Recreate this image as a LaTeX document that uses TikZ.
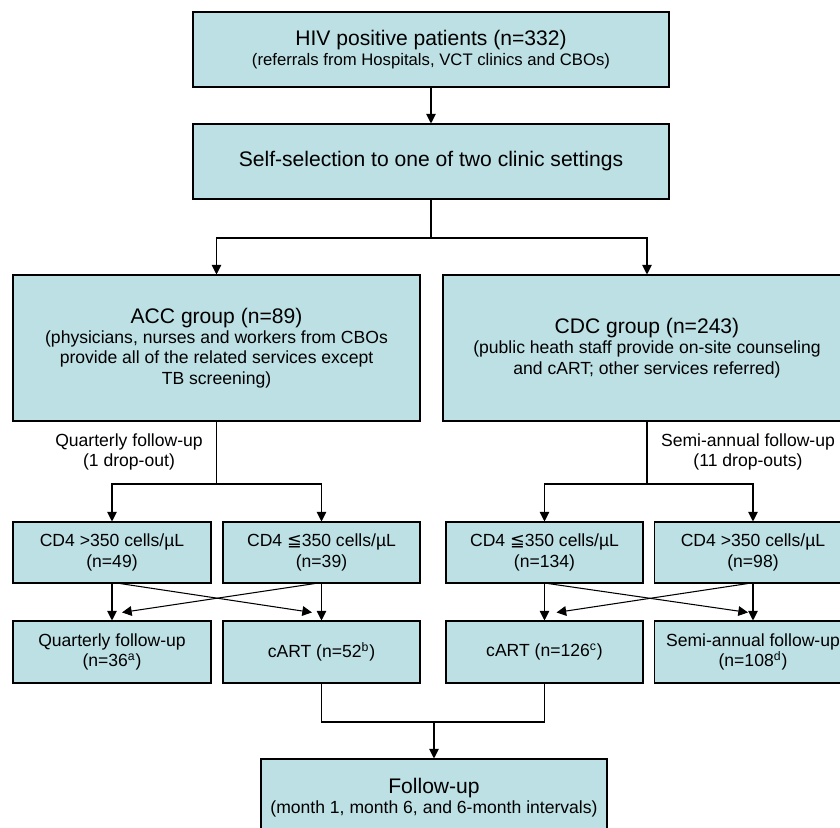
\documentclass[tikz,border=0pt]{standalone}
\usepackage{fontspec}
\setmainfont{Liberation Sans}
\newfontfamily\symfont{DejaVu Sans}
\usetikzlibrary{arrows.meta}
\definecolor{boxFill}{RGB}{188,224,228}
\newcommand{\bigtext}{\fontsize{12}{14}\selectfont}
\newcommand{\subtext}{\fontsize{10}{11.5}\selectfont}
\newcommand{\topsubtext}{\fontsize{9.5}{11}\selectfont}
\newcommand{\leqsym}{{\symfont ≦}}
\begin{document}
\begin{tikzpicture}[x=0.02cm, y=-0.02cm, font=\subtext,
    boxStyle/.style={draw, fill=boxFill, align=center, inner sep=0pt, line width=0.6pt},
    boxSize/.style 2 args={minimum width=#1*0.02cm, minimum height=#2*0.02cm},
    lineStyle/.style={line width=0.6pt},
    arrowStyle/.style={lineStyle, -{Triangle[width=5.5pt,length=5.5pt]}},
    labelStyle/.style={align=center, inner sep=0pt}]
    \useasboundingbox (0,0) rectangle (840,828);

    \node[boxStyle, boxSize={476}{75}](patients) at (431, 49.5) {\bigtext HIV positive patients (n=332)\\ \topsubtext (referrals from Hospitals, VCT clinics and CBOs)};
    \node[boxStyle, boxSize={476}{75}](selection) at (431, 161.5) {\bigtext Self-selection to one of two clinic settings};

    \node[boxStyle, boxSize={407}{146}](acc) at (216.5, 348) {\bigtext ACC group (n=89)\\ \subtext (physicians, nurses and workers from CBOs\\ provide all of the related services except\\ TB screening)};
    \node[boxStyle, boxSize={408}{146}](cdc) at (647, 348) {\bigtext CDC group (n=243)\\ \subtext (public heath staff provide on-site counseling\\ and cART; other services referred)};

    \node[labelStyle](accLabel) at (129, 452) {Quarterly follow-up\\ (1 drop-out)};
    \node[labelStyle](cdcLabel) at (748, 452) {Semi-annual follow-up\\ (11 drop-outs)};

    \node[boxStyle, boxSize={198}{61}](accHigh) at (112, 552.5) {CD4 >350 cells/µL\\ (n=49)};
    \node[boxStyle, boxSize={197}{61}](accLow) at (321.5, 552.5) {CD4 \leqsym350 cells/µL\\ (n=39)};
    \node[boxStyle, boxSize={197}{61}](cdcLow) at (544.5, 552.5) {CD4 \leqsym350 cells/µL\\ (n=134)};
    \node[boxStyle, boxSize={197}{61}](cdcHigh) at (753, 552.5) {CD4 >350 cells/µL\\ (n=98)};

    \node[boxStyle, boxSize={198}{62}](accQuarterly) at (112, 652) {Quarterly follow-up\\ (n=36\textsuperscript{a})};
    \node[boxStyle, boxSize={197}{62}](accCart) at (321.5, 652) {cART (n=52\textsuperscript{b})};
    \node[boxStyle, boxSize={197}{62}](cdcCart) at (544.5, 652) {cART (n=126\textsuperscript{c})};
    \node[boxStyle, boxSize={197}{62}](cdcSemi) at (753, 652) {Semi-annual follow-up\\ (n=108\textsuperscript{d})};

    \node[boxStyle, boxSize={346}{78}](followUp) at (434, 798) {\bigtext Follow-up\\ \subtext (month 1, month 6, and 6-month intervals)};

    \coordinate (groupSplit) at (431, 238);
    \coordinate (accSplit) at (216.5, 484);
    \coordinate (cdcSplit) at (647, 484);
    \coordinate (merge) at (434, 722);

    \draw[arrowStyle] (patients) -- (selection);
    \draw[lineStyle] (selection) -- (groupSplit);
    \draw[arrowStyle] (groupSplit) -| (acc.north);
    \draw[arrowStyle] (groupSplit) -| (cdc.north);

    \draw[lineStyle] (acc) -- (accSplit);
    \draw[arrowStyle] (accSplit) -| (accHigh.north);
    \draw[arrowStyle] (accSplit) -| (accLow.north);
    \draw[lineStyle] (cdc) -- (cdcSplit);
    \draw[arrowStyle] (cdcSplit) -| (cdcLow.north);
    \draw[arrowStyle] (cdcSplit) -| (cdcHigh.north);

    \draw[arrowStyle] (accHigh) -- (accQuarterly);
    \draw[arrowStyle] (accLow) -- (accCart);
    \draw[arrowStyle] ([xshift=0.16cm]accHigh.south) -- ([xshift=-0.19cm, yshift=0.16cm]accCart.north);
    \draw[arrowStyle] ([xshift=-0.13cm]accLow.south) -- ([xshift=0.2cm, yshift=0.16cm]accQuarterly.north);

    \draw[arrowStyle] (cdcLow) -- (cdcCart);
    \draw[arrowStyle] (cdcHigh) -- (cdcSemi);
    \draw[arrowStyle] ([xshift=0.07cm]cdcLow.south) -- ([xshift=-0.1cm, yshift=0.16cm]cdcSemi.north);
    \draw[arrowStyle] ([xshift=-0.1cm]cdcHigh.south) -- ([xshift=0.24cm, yshift=0.16cm]cdcCart.north);

    \draw[lineStyle] (accCart.south) |- (merge) -| (cdcCart.south);
    \draw[arrowStyle] (merge) -- (followUp.north);
\end{tikzpicture}
\end{document}
